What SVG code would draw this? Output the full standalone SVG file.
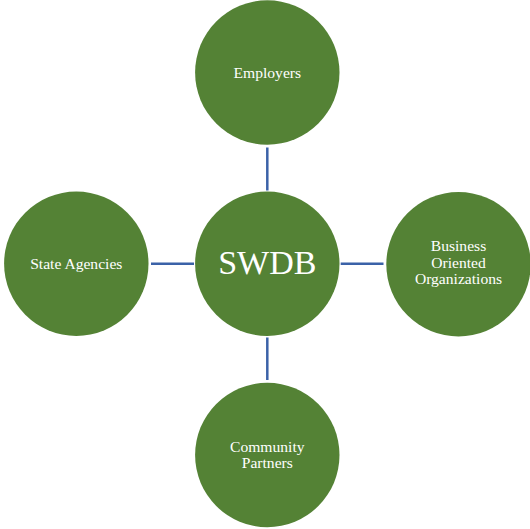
<svg xmlns="http://www.w3.org/2000/svg" width="530" height="529" viewBox="0 0 530 529">
<style>
.node{fill:#548235}
.lbl{font-family:"Liberation Serif","Times New Roman",serif;font-size:15.6px;fill:#ffffff;text-anchor:middle}
.big{font-size:34px}
.conn{stroke:#3b62a8;stroke-width:2.5;fill:none}
</style>
<rect width="530" height="529" fill="#ffffff"/>
<g id="connectors">
<line class="conn" x1="267.3" y1="147.5" x2="267.3" y2="190.5"/>
<line class="conn" x1="267.3" y1="337.5" x2="267.3" y2="380"/>
<line class="conn" x1="151" y1="263.7" x2="194" y2="263.7"/>
<line class="conn" x1="340.7" y1="263.7" x2="383.5" y2="263.7"/>
</g>
<g id="employers">
<circle class="node" cx="267.3" cy="72.5" r="72.2"/>
<text class="lbl" x="267.3" y="78">Employers</text>
</g>
<g id="swdb">
<circle class="node" cx="267.3" cy="263.7" r="72.2"/>
<text class="lbl big" x="267.3" y="274">SWDB</text>
</g>
<g id="state-agencies">
<circle class="node" cx="76.3" cy="263.7" r="72.2"/>
<text class="lbl" x="76.3" y="268.5">State Agencies</text>
</g>
<g id="business">
<circle class="node" cx="458.5" cy="264.3" r="72.2"/>
<text class="lbl" x="458.5" y="251">Business</text>
<text class="lbl" x="458.5" y="267.7">Oriented</text>
<text class="lbl" x="458.5" y="284.3">Organizations</text>
</g>
<g id="community">
<circle class="node" cx="267.3" cy="455" r="72.2"/>
<text class="lbl" x="267.3" y="451.7">Community</text>
<text class="lbl" x="267.3" y="467.5">Partners</text>
</g>
</svg>
